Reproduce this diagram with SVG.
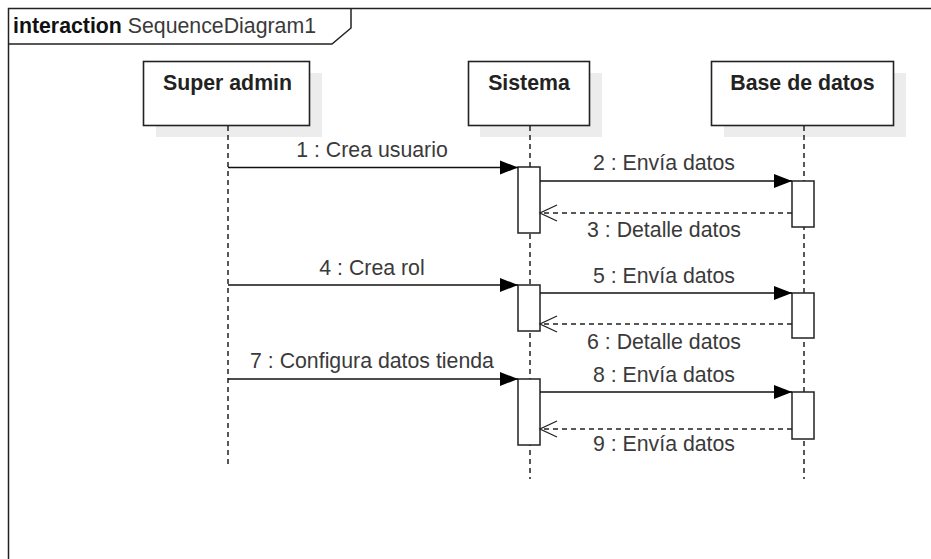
<svg xmlns="http://www.w3.org/2000/svg" width="931" height="559" viewBox="0 0 931 559">
  <style>
    .frame { fill: none; stroke: #222; stroke-width: 1.5; }
    .head { fill: #fff; stroke: #222; stroke-width: 1.6; }
    .shadow { fill: #ececec; stroke: none; }
    .name { font-family: "Liberation Sans", Arial, sans-serif; font-size: 21.3px; font-weight: bold; fill: #222; text-anchor: middle; }
    .life { stroke: #222; stroke-width: 1.5; stroke-dasharray: 5 4; fill: none; }
    .act { fill: #fff; stroke: #222; stroke-width: 1.5; }
    .call { stroke: #111; stroke-width: 1.5; fill: none; marker-end: url(#filled); }
    .reply { stroke: #222; stroke-width: 1.3; fill: none; stroke-dasharray: 5 4; marker-end: url(#open); }
    .msg { font-family: "Liberation Sans", Arial, sans-serif; font-size: 21.3px; fill: #3a3a3a; text-anchor: middle; }
    .title { font-family: "Liberation Sans", Arial, sans-serif; font-size: 21.3px; fill: #3a3a3a; }
  </style>
  <defs>
    <marker id="filled" markerUnits="userSpaceOnUse" markerWidth="19" markerHeight="16" refX="18" refY="8" orient="auto" overflow="visible">
      <path d="M0,1 L18,8 L0,15 Z" fill="#000" stroke="none"/>
    </marker>
    <marker id="open" markerUnits="userSpaceOnUse" markerWidth="18" markerHeight="18" refX="17" refY="8" orient="auto" overflow="visible">
      <path d="M0,0 L17,8 L0,16" fill="none" stroke="#222" stroke-width="1.3"/>
    </marker>
  </defs>

  <!-- interaction frame -->
  <g id="frame">
    <rect class="frame" x="8.5" y="8.5" width="940" height="580"/>
    <path class="frame" d="M8.5,44 L332,44 L351,28 L351,8.5"/>
    <text class="title" x="13" y="33"><tspan font-weight="bold" fill="#111">interaction</tspan> SequenceDiagram1</text>
  </g>

  <!-- lifelines -->
  <g id="super-admin">
    <rect class="shadow" x="156" y="73" width="166" height="64"/>
    <rect class="head" x="143.5" y="61.5" width="166" height="64"/>
    <text class="name" x="227.5" y="90">Super admin</text>
    <line class="life" x1="228" y1="126" x2="228" y2="468"/>
  </g>
  <g id="sistema">
    <rect class="shadow" x="480" y="73" width="122" height="64"/>
    <rect class="head" x="468.5" y="61.5" width="121" height="64"/>
    <text class="name" x="529" y="90">Sistema</text>
    <line class="life" x1="530" y1="126" x2="530" y2="479"/>
    <rect class="act" x="518" y="167" width="22" height="66"/>
    <rect class="act" x="518" y="285" width="22" height="46"/>
    <rect class="act" x="518" y="379" width="22" height="66"/>
  </g>
  <g id="base-de-datos">
    <rect class="shadow" x="724" y="73" width="182" height="64"/>
    <rect class="head" x="711.5" y="61.5" width="182" height="64"/>
    <text class="name" x="802.5" y="90">Base de datos</text>
    <line class="life" x1="804" y1="126" x2="804" y2="479"/>
    <rect class="act" x="792" y="181" width="22" height="46"/>
    <rect class="act" x="792" y="293" width="22" height="45"/>
    <rect class="act" x="792" y="392" width="22" height="47"/>
  </g>

  <!-- messages -->
  <g id="connectors">
    <line class="call" x1="228" y1="167.5" x2="518" y2="167.5"/>
    <text class="msg" x="372" y="157">1 : Crea usuario</text>
    <line class="call" x1="540" y1="181" x2="792" y2="181"/>
    <text class="msg" x="664" y="170">2 : Envía datos</text>
    <line class="reply" x1="792" y1="213" x2="540" y2="213"/>
    <text class="msg" x="664" y="237">3 : Detalle datos</text>

    <line class="call" x1="228" y1="285" x2="518" y2="285"/>
    <text class="msg" x="372" y="275">4 : Crea rol</text>
    <line class="call" x1="540" y1="293" x2="792" y2="293"/>
    <text class="msg" x="664" y="283">5 : Envía datos</text>
    <line class="reply" x1="792" y1="324" x2="540" y2="324"/>
    <text class="msg" x="664" y="349">6 : Detalle datos</text>

    <line class="call" x1="228" y1="379" x2="518" y2="379"/>
    <text class="msg" x="372" y="368">7 : Configura datos tienda</text>
    <line class="call" x1="540" y1="392" x2="792" y2="392"/>
    <text class="msg" x="664" y="382">8 : Envía datos</text>
    <line class="reply" x1="792" y1="429" x2="540" y2="429"/>
    <text class="msg" x="664" y="451">9 : Envía datos</text>
  </g>
</svg>
